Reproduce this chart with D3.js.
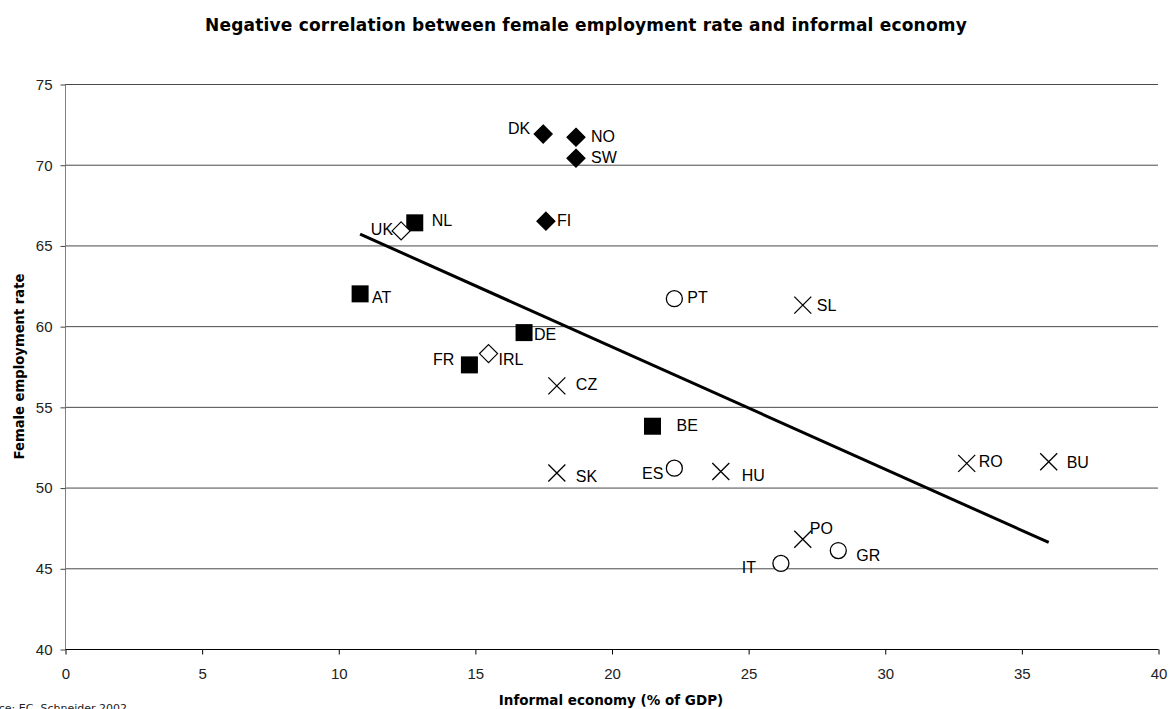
<!DOCTYPE html>
<html>
<head>
<meta charset="utf-8">
<script src="https://cdn.jsdelivr.net/npm/d3@7"></script>
<style>
  body { margin: 0; background: #fff; }
  svg { display: block; }
</style>
</head>
<body>
<svg id="chart" width="1169" height="709"></svg>
<script>
// ---- data ----
const countries = ["DK","NO","SW","FI","NL","UK","AT","DE","FR","IRL","CZ","SK","PT","SL","BE","ES","HU","RO","BU","PO","GR","IT"];
const informalEconomy = [17.5,18.7,18.7,17.6,12.8,12.3,10.8,16.8,14.8,15.5,18.0,18.0,22.3,27.0,21.5,22.3,24.0,33.0,36.0,27.0,28.3,26.2];
const femaleEmployment = [71.9,71.7,70.4,66.5,66.4,65.9,62.0,59.6,57.6,58.3,56.3,50.9,61.7,61.3,53.8,51.2,51.0,51.5,51.6,46.8,46.1,45.3];
const groups = ["nordic","nordic","nordic","nordic","continental","anglo","continental","continental","continental","anglo","eastern","eastern","southern","eastern","continental","southern","eastern","eastern","eastern","eastern","southern","southern"];
const trendX = [10.8, 36.0];
const trendY = [65.7, 46.6];
const xTicks = [0,5,10,15,20,25,30,35,40];
const yTicks = [40,45,50,55,60,65,70,75];
const titleText = "Negative correlation between female employment rate and informal economy";
const xAxisTitle = "Informal economy (% of GDP)";
const yAxisTitle = "Female employment rate";
const sourceText = "Source: EC, Schneider 2002";

// ---- layout ----
const labelOffsets = {
  DK:[-13,-6,"end"], NO:[15,-1,"start"], SW:[15,-1,"start"], FI:[11,-1,"start"],
  NL:[17,-2,"start"], UK:[-8,-2,"end"], AT:[12,4,"start"], DE:[10,2,"start"],
  FR:[-15,-5,"end"], IRL:[10,6,"start"], CZ:[19,-1,"start"], SK:[19,3,"start"],
  PT:[13,-1,"start"], SL:[14,0,"start"], BE:[24,-1,"start"], ES:[-11,5,"end"],
  HU:[21,4,"start"], RO:[12,-2,"start"], BU:[18,1,"start"], PO:[7,-11,"start"],
  GR:[18,5,"start"], IT:[-25,4,"end"]
};
const mLeft = 65, mRight = 1158, mTop = 84, mBottom = 649;
const svg = d3.select("#chart");
const x = d3.scaleLinear().domain([0,40]).range([mLeft,mRight]);
const y = d3.scaleLinear().domain([40,75]).range([mBottom,mTop]);
const titleFont = "'DejaVu Sans', sans-serif";
const tickFont = "'Liberation Sans', Arial, sans-serif";

// gridlines
svg.append("g").selectAll("line").data(yTicks.filter(d => d > 40)).join("line")
  .attr("x1", mLeft).attr("x2", mRight)
  .attr("y1", d => y(d)+0.5).attr("y2", d => y(d)+0.5)
  .attr("stroke", "#4a4a4a").attr("stroke-width", 1);

// y axis
const yAxis = svg.append("g").attr("transform", `translate(${mLeft+0.5},0.5)`)
  .call(d3.axisLeft(y).tickValues(yTicks).tickSize(5).tickPadding(8).tickFormat(d3.format("d")));
yAxis.select(".domain").attr("stroke", "#808080").attr("d", `M0,${mTop}V${mBottom}`);
yAxis.selectAll(".tick line").attr("stroke", "#444");
yAxis.selectAll("text").attr("font-family", tickFont).attr("font-size", 15).attr("fill", "#222");

// x axis
const xAxis = svg.append("g").attr("transform", `translate(0.5,${mBottom+0.5})`)
  .call(d3.axisBottom(x).tickValues(xTicks).tickSize(5).tickPadding(14).tickFormat(d3.format("d")));
xAxis.select(".domain").attr("stroke", "#000").attr("d", `M${mLeft},0H${mRight}`);
xAxis.selectAll(".tick line").attr("stroke", "#000");
xAxis.selectAll("text").attr("font-family", tickFont).attr("font-size", 15).attr("fill", "#222");

// trend line
svg.append("line")
  .attr("x1", x(trendX[0])).attr("y1", y(trendY[0]))
  .attr("x2", x(trendX[1])).attr("y2", y(trendY[1]))
  .attr("stroke", "#000").attr("stroke-width", 3);

// markers
const pts = countries.map((c,i) => ({c, x: informalEconomy[i], y: femaleEmployment[i], g: groups[i]}));
const mk = svg.append("g");
pts.forEach(p => {
  const cx = x(p.x), cy = y(p.y);
  if (p.g === "nordic" || p.g === "anglo") {
    const s = 9;
    mk.append("path")
      .attr("d", `M${cx},${cy-s}L${cx+s},${cy}L${cx},${cy+s}L${cx-s},${cy}Z`)
      .attr("fill", p.g === "nordic" ? "#000" : "#fff")
      .attr("stroke", "#000").attr("stroke-width", 1.2);
  } else if (p.g === "continental") {
    const s = 8.5;
    mk.append("rect").attr("x", cx-s).attr("y", cy-s).attr("width", 2*s).attr("height", 2*s)
      .attr("fill", "#000");
  } else if (p.g === "southern") {
    mk.append("circle").attr("cx", cx).attr("cy", cy).attr("r", 8)
      .attr("fill", "#fff").attr("stroke", "#000").attr("stroke-width", 1.3);
  } else {
    const s = 8.5;
    mk.append("path")
      .attr("d", `M${cx-s},${cy-s}L${cx+s},${cy+s}M${cx+s},${cy-s}L${cx-s},${cy+s}`)
      .attr("stroke", "#000").attr("stroke-width", 1.3).attr("fill", "none");
  }
  const o = labelOffsets[p.c];
  mk.append("text").attr("x", cx + o[0]).attr("y", cy + o[1])
    .attr("dy", "0.35em").attr("text-anchor", o[2])
    .attr("font-family", "'Liberation Sans', Arial, sans-serif").attr("font-size", 16)
    .attr("fill", "#000").text(p.c);
});

// titles
svg.append("text").attr("x", 586).attr("y", 31).attr("text-anchor", "middle")
  .attr("font-family", titleFont).attr("font-weight", "bold").attr("font-size", 17)
  .attr("letter-spacing", 0.2)
  .text(titleText);
svg.append("text").attr("x", 611).attr("y", 705).attr("text-anchor", "middle")
  .attr("font-family", titleFont).attr("font-weight", "bold").attr("font-size", 13.5)
  .text(xAxisTitle);
svg.append("text").attr("transform", `translate(24,${(mTop+mBottom)/2}) rotate(-90)`)
  .attr("text-anchor", "middle")
  .attr("font-family", titleFont).attr("font-weight", "bold").attr("font-size", 13.2)
  .text(yAxisTitle);
svg.append("text").attr("x", 127).attr("y", 712).attr("text-anchor", "end")
  .attr("font-family", titleFont).attr("font-size", 11).attr("fill", "#222")
  .text(sourceText);
</script>
</body>
</html>
